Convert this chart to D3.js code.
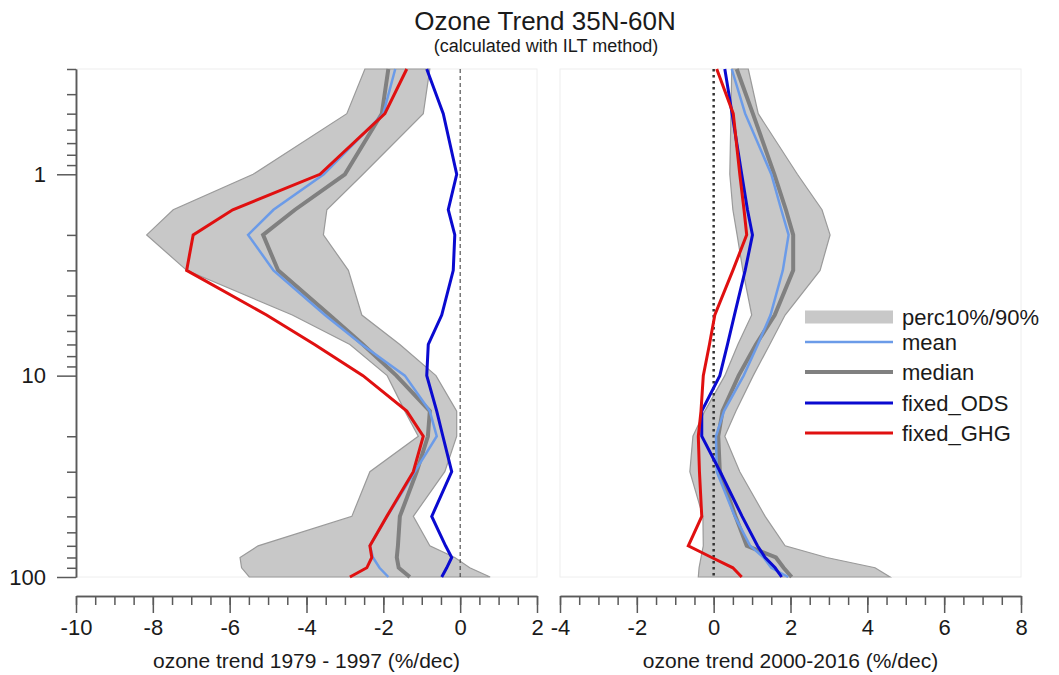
<!DOCTYPE html>
<html>
<head>
<meta charset="utf-8">
<script src="https://cdn.jsdelivr.net/npm/d3@7/dist/d3.min.js"></script>
<style>
body { margin: 0; background: #fff; }
svg text { font-family: "Liberation Sans", Arial, sans-serif; fill: #1a1a1a; }
.axis path, .axis line { stroke: #5a5a5a; stroke-width: 1.5; }
</style>
</head>
<body>
<div id="chart"></div>
<script>
// pressure levels (hPa)
var levels = [0.3, 0.5, 1, 1.5, 2, 3, 5, 7, 10, 15, 20, 30, 50, 70, 80, 90, 100];

// trend 1979 - 1997 (%/dec)
var p10_early    = [-2.48, -2.95, -5.39, -7.47, -8.16, -7.12, -4.37, -2.87, -1.90, -1.44, -1.09, -2.35, -2.82, -5.26, -5.73, -5.69, -5.49];
var p90_early    = [-0.79, -0.96, -2.53, -3.47, -3.56, -2.91, -2.56, -1.57, -0.63, -0.09, -0.09, -0.40, -1.22, -0.79, -0.14, 0.25, 0.78];
var mean_early   = [-1.69, -2.00, -3.55, -4.86, -5.52, -4.86, -3.52, -2.56, -1.44, -0.79, -0.61, -1.18, -1.90, -2.35, -2.27, -2.10, -1.87];
var median_early = [-1.87, -2.04, -3.00, -4.30, -5.13, -4.74, -3.40, -2.53, -1.66, -0.79, -0.84, -1.13, -1.57, -1.62, -1.65, -1.60, -1.31];
var ods_early    = [-0.87, -0.44, -0.09, -0.31, -0.14, -0.18, -0.48, -0.83, -0.87, -0.61, -0.45, -0.22, -0.74, -0.38, -0.22, -0.35, -0.48];
var ghg_early    = [-1.39, -1.96, -3.65, -5.92, -6.95, -7.12, -5.04, -3.79, -2.53, -1.39, -0.96, -1.22, -1.91, -2.35, -2.30, -2.43, -2.87];

// trend 2000 - 2016 (%/dec)
var p10_late    = [0.47, 0.45, 0.42, 0.50, 0.61, 0.76, 0.99, 0.63, 0.29, -0.23, -0.54, -0.62, -0.28, -0.27, -0.33, -0.38, -0.40];
var p90_late    = [0.90, 1.16, 2.18, 2.82, 3.03, 2.77, 1.86, 1.46, 1.03, 0.58, 0.29, 0.68, 1.34, 1.86, 2.94, 4.20, 4.59];
var mean_late   = [0.47, 0.82, 1.50, 1.76, 1.95, 1.80, 1.48, 1.15, 0.78, 0.27, 0.06, 0.08, 0.55, 0.95, 1.30, 1.50, 1.94];
var median_late = [0.60, 1.02, 1.58, 1.88, 2.07, 2.07, 1.59, 1.10, 0.65, 0.23, 0.12, 0.16, 0.57, 0.86, 1.62, 1.82, 2.03];
var ods_late    = [0.29, 0.48, 0.73, 0.88, 1.01, 0.82, 0.54, 0.36, 0.16, -0.31, -0.31, 0.17, 0.74, 1.14, 1.34, 1.60, 1.77];
var ghg_late    = [0.08, 0.51, 0.68, 0.79, 0.86, 0.50, 0.03, -0.11, -0.27, -0.33, -0.40, -0.37, -0.31, -0.66, -0.05, 0.50, 0.73];

var legendNames = ["perc10%/90%", "mean", "median", "fixed_ODS", "fixed_GHG"];

var colors = { band: "#c8c8c8", mean: "#6b9be8", median: "#808080", ods: "#0a0ad0", ghg: "#e01010" };

var width = 1059, height = 675;
var plotTop = 69, plotBottom = 577, axisY = 596;

var svg = d3.select("#chart").append("svg")
  .attr("width", width)
  .attr("height", height);

var y = d3.scaleLog()
  .domain([0.3, 100])
  .range([plotTop, plotBottom]);

svg.append("text")
  .attr("x", 545).attr("y", 30)
  .attr("text-anchor", "middle")
  .style("font-size", "26px")
  .text("Ozone Trend 35N-60N");

svg.append("text")
  .attr("x", 546).attr("y", 52)
  .attr("text-anchor", "middle")
  .style("font-size", "18px")
  .text("(calculated with ILT method)");

function Panel(attrs) {
  this.left = attrs.left;
  this.right = attrs.right;
  this.domain = attrs.domain;
  this.title = attrs.title;
  this.zeroDash = attrs.zeroDash;
  this.zeroWidth = attrs.zeroWidth;
  this.x = d3.scaleLinear().domain(this.domain).range([this.left, this.right]);
  this.rows = levels.map(function(p, i) {
    return {
      p: p,
      lo: attrs.p10[i], hi: attrs.p90[i],
      mean: attrs.mean[i], median: attrs.median[i],
      ods: attrs.ods[i], ghg: attrs.ghg[i]
    };
  });
  this.g = svg.append("g");
}

Panel.prototype.plot = function() {
  var self = this;
  var x = this.x;

  // faint frame of the plotting area
  this.g.append("rect")
    .attr("x", this.left).attr("y", plotTop)
    .attr("width", this.right - this.left)
    .attr("height", plotBottom - plotTop)
    .attr("fill", "none")
    .attr("stroke", "#eeeeee");

  var area = d3.area()
    .y(function(d) { return y(d.p); })
    .x0(function(d) { return x(d.lo); })
    .x1(function(d) { return x(d.hi); });

  this.g.append("path")
    .datum(this.rows)
    .attr("d", area)
    .attr("fill", colors.band)
    .attr("stroke", "#9a9a9a")
    .attr("stroke-width", 1.2);

  this.g.append("line")
    .attr("x1", x(0)).attr("x2", x(0))
    .attr("y1", plotTop).attr("y2", plotBottom)
    .attr("stroke", "#333")
    .attr("stroke-width", this.zeroWidth)
    .attr("stroke-dasharray", this.zeroDash);

  // median under mean so the thin mean line stays visible
  var series = [
    { key: "median", color: colors.median, w: 4 },
    { key: "mean", color: colors.mean, w: 2.5 },
    { key: "ods", color: colors.ods, w: 3 },
    { key: "ghg", color: colors.ghg, w: 3 }
  ];

  series.forEach(function(s) {
    var line = d3.line()
      .y(function(d) { return y(d.p); })
      .x(function(d) { return x(d[s.key]); });
    self.g.append("path")
      .datum(self.rows)
      .attr("d", line)
      .attr("fill", "none")
      .attr("stroke", s.color)
      .attr("stroke-width", s.w)
      .attr("stroke-linejoin", "miter");
  });

  // x axis: major ticks every 2, minor every 0.5
  var major = d3.range(this.domain[0], this.domain[1] + 0.01, 2);
  var minor = d3.range(this.domain[0], this.domain[1] + 0.01, 0.5);

  this.g.append("g")
    .attr("class", "axis")
    .attr("transform", "translate(0," + axisY + ")")
    .call(d3.axisBottom(x).tickValues(minor).tickSize(9).tickSizeOuter(0).tickFormat(""));

  var ax = this.g.append("g")
    .attr("class", "axis")
    .attr("transform", "translate(0," + axisY + ")")
    .call(d3.axisBottom(x).tickValues(major).tickSize(17).tickSizeOuter(0).tickPadding(6)
      .tickFormat(d3.format("d")));
  ax.selectAll("text")
    .style("font-size", "22px")
    .attr("fill", "#1a1a1a")
    .text(function(d) { return d < 0 ? "-" + Math.abs(d) : d; });

  this.g.append("text")
    .attr("x", (this.left + this.right) / 2)
    .attr("y", 668)
    .attr("text-anchor", "middle")
    .style("font-size", "21px")
    .text(this.title);
};

var early = new Panel({
  left: 76, right: 537, domain: [-10, 2],
  p10: p10_early, p90: p90_early, mean: mean_early, median: median_early,
  ods: ods_early, ghg: ghg_early,
  title: "ozone trend 1979 - 1997 (%/dec)",
  zeroDash: "4,3", zeroWidth: 1
});
early.plot();

var late = new Panel({
  left: 560, right: 1021, domain: [-4, 8],
  p10: p10_late, p90: p90_late, mean: mean_late, median: median_late,
  ods: ods_late, ghg: ghg_late,
  title: "ozone trend 2000-2016 (%/dec)",
  zeroDash: "2.5,3.5", zeroWidth: 2.5
});
late.plot();

// y axis (pressure), log scale
var minorP = [0.3, 0.4, 0.5, 0.6, 0.7, 0.8, 0.9, 2, 3, 4, 5, 6, 7, 8, 9, 20, 30, 40, 50, 60, 70, 80, 90];

svg.append("g")
  .attr("class", "axis")
  .attr("transform", "translate(76,0)")
  .call(d3.axisLeft(y).tickValues(minorP).tickSize(9).tickSizeOuter(0).tickFormat(""));

var yax = svg.append("g")
  .attr("class", "axis")
  .attr("transform", "translate(76,0)")
  .call(d3.axisLeft(y).tickValues([1, 10, 100]).tickSize(19).tickSizeOuter(0).tickPadding(11)
    .tickFormat(d3.format("d")));
yax.selectAll("text")
  .style("font-size", "22px")
  .attr("fill", "#1a1a1a");

// legend
var lg = svg.append("g");
var legendY = [317, 342, 372, 403, 433];
var legendStyle = [
  { color: colors.band, w: 13 },
  { color: colors.mean, w: 2.5 },
  { color: colors.median, w: 4 },
  { color: colors.ods, w: 3 },
  { color: colors.ghg, w: 3 }
];

lg.append("rect")
  .attr("x", 806).attr("y", 305)
  .attr("width", 212).attr("height", 140)
  .attr("fill", "#fff");

legendNames.forEach(function(name, i) {
  lg.append("line")
    .attr("x1", 805).attr("x2", 893)
    .attr("y1", legendY[i]).attr("y2", legendY[i])
    .attr("stroke", legendStyle[i].color)
    .attr("stroke-width", legendStyle[i].w);
  lg.append("text")
    .attr("x", 902).attr("y", legendY[i] + 8)
    .style("font-size", "22px")
    .text(name);
});
</script>
</body>
</html>
